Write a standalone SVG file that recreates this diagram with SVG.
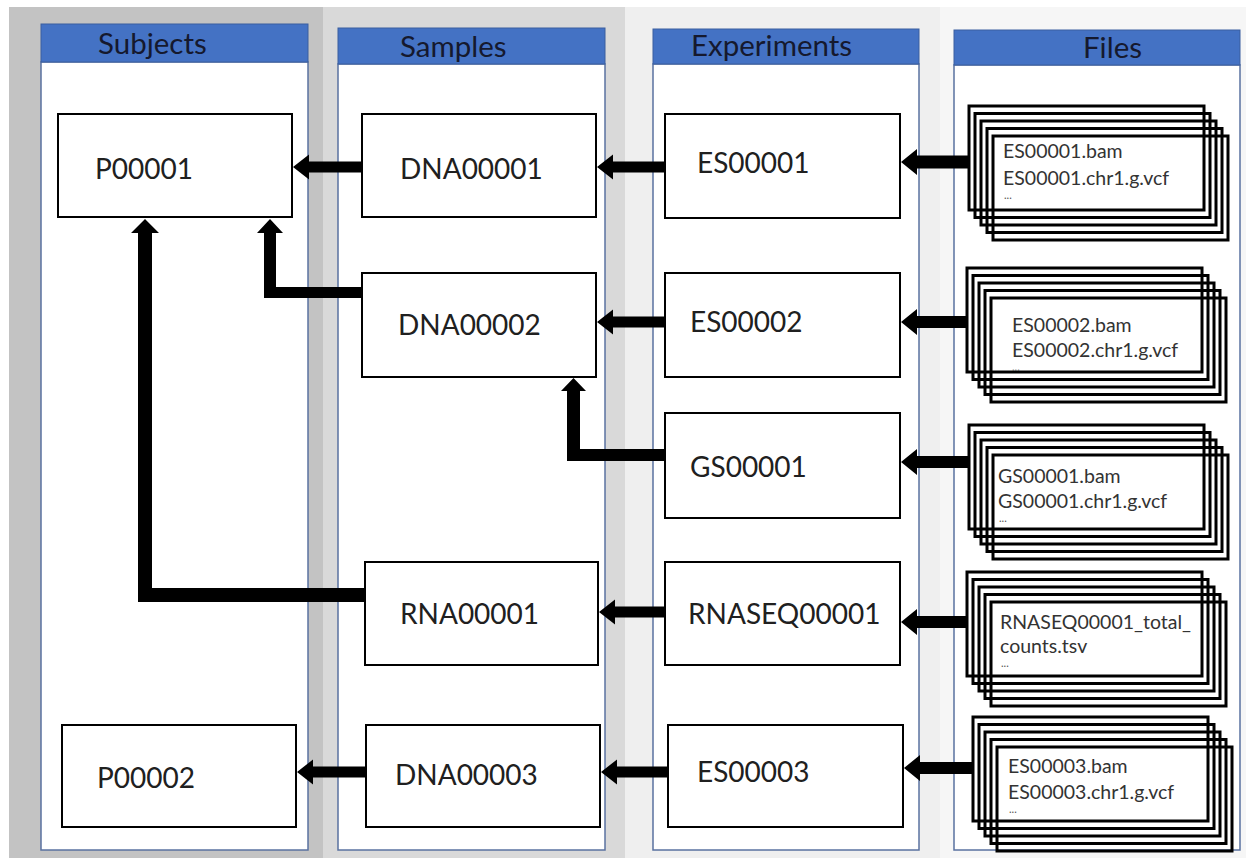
<svg xmlns="http://www.w3.org/2000/svg" width="1246" height="859" viewBox="0 0 1246 859">
<style>
.col{fill:#ffffff;stroke:#5a72a0;stroke-width:1.5}
.hdr{fill:#4472c4;stroke:#3a5f9f;stroke-width:1}
.ht{font-family:Lato,"Liberation Sans",sans-serif;font-size:29.5px;fill:#15192e}
.box{fill:#ffffff;stroke:#000000;stroke-width:2}
.lbl{font-family:Lato,"Liberation Sans",sans-serif;font-size:28px;fill:#202020}
.fr{fill:none;stroke:#000000;stroke-width:3}
.ft{font-family:Lato,"Liberation Sans",sans-serif;font-size:19.5px;fill:#333333}
.dots{font-family:Lato,"Liberation Sans",sans-serif;font-size:11px;fill:#555555}
.arr{fill:#000000}
</style>
<defs>
<g id="stack">
<rect class="fr" x="0" y="0" width="235" height="104"/>
<rect class="fr" x="6" y="7.5" width="235" height="104"/>
<rect class="fr" x="12" y="15" width="235" height="104"/>
<rect class="fr" x="18" y="22.5" width="235" height="104"/>
<rect class="fr" x="24" y="30" width="235" height="104"/>
</g>
</defs>
<!-- background bands -->
<rect x="0" y="0" width="1246" height="859" fill="#ffffff"/>
<rect x="9" y="7" width="314" height="851" fill="#c3c3c3"/>
<rect x="323" y="7" width="302" height="851" fill="#d9d9d9"/>
<rect x="625" y="7" width="315" height="851" fill="#efefef"/>
<rect x="940" y="7" width="306" height="851" fill="#f6f6f6"/>

<!-- columns -->
<g id="col-subjects">
<rect class="col" x="41" y="62" width="267" height="788"/>
<rect class="hdr" x="41" y="24" width="267" height="38"/>
<text class="ht" x="98" y="54">Subjects</text>
</g>
<g id="col-samples">
<rect class="col" x="338" y="64" width="267" height="786"/>
<rect class="hdr" x="338" y="28" width="267" height="36"/>
<text class="ht" x="400" y="57">Samples</text>
</g>
<g id="col-experiments">
<rect class="col" x="653" y="64" width="266" height="786"/>
<rect class="hdr" x="653" y="29" width="266" height="35"/>
<text class="ht" x="691" y="56">Experiments</text>
</g>
<g id="col-files">
<rect class="col" x="954" y="65" width="286" height="785"/>
<rect class="hdr" x="954" y="30" width="286" height="35"/>
<text class="ht" x="1083" y="58">Files</text>
</g>

<!-- nodes -->
<g id="P00001"><rect class="box" x="58" y="114" width="234" height="103"/><text class="lbl" x="95" y="179">P00001</text></g>
<g id="DNA00001"><rect class="box" x="362" y="114" width="234" height="103"/><text class="lbl" x="400" y="179">DNA00001</text></g>
<g id="ES00001"><rect class="box" x="665" y="114" width="235" height="104"/><text class="lbl" x="697" y="173">ES00001</text></g>
<g id="DNA00002"><rect class="box" x="362" y="273" width="234" height="104"/><text class="lbl" x="398" y="335">DNA00002</text></g>
<g id="ES00002"><rect class="box" x="665" y="273" width="235" height="104"/><text class="lbl" x="690" y="332">ES00002</text></g>
<g id="GS00001"><rect class="box" x="665" y="413" width="235" height="105"/><text class="lbl" x="690" y="477">GS00001</text></g>
<g id="RNA00001"><rect class="box" x="365" y="562" width="233" height="103"/><text class="lbl" x="400" y="624">RNA00001</text></g>
<g id="RNASEQ00001"><rect class="box" x="665" y="562" width="235" height="103"/><text class="lbl" x="688" y="624">RNASEQ00001</text></g>
<g id="P00002"><rect class="box" x="62" y="725" width="234" height="102"/><text class="lbl" x="97" y="788">P00002</text></g>
<g id="DNA00003"><rect class="box" x="366" y="725" width="234" height="102"/><text class="lbl" x="395" y="785">DNA00003</text></g>
<g id="ES00003"><rect class="box" x="668" y="725" width="235" height="102"/><text class="lbl" x="697" y="782">ES00003</text></g>

<!-- file stacks -->
<g id="files-ES00001"><use href="#stack" x="969" y="106"/>
<text class="ft" x="1003" y="158">ES00001.bam</text><text class="ft" x="1003" y="185">ES00001.chr1.g.vcf</text><text class="dots" x="1004" y="199">...</text></g>
<g id="files-ES00002"><use href="#stack" x="967" y="268"/>
<text class="ft" x="1012" y="332">ES00002.bam</text><text class="ft" x="1012" y="357">ES00002.chr1.g.vcf</text><text class="dots" x="1012" y="371">...</text></g>
<g id="files-GS00001"><use href="#stack" x="969" y="425"/>
<text class="ft" x="998" y="483">GS00001.bam</text><text class="ft" x="998" y="508">GS00001.chr1.g.vcf</text><text class="dots" x="999" y="522">...</text></g>
<g id="files-RNASEQ00001"><use href="#stack" x="967" y="572"/>
<text class="ft" x="1000" y="629">RNASEQ00001_total_</text><text class="ft" x="1000" y="653">counts.tsv</text><text class="dots" x="1001" y="667">...</text></g>
<g id="files-ES00003"><use href="#stack" x="973" y="717"/>
<text class="ft" x="1008" y="773">ES00003.bam</text><text class="ft" x="1008" y="799">ES00003.chr1.g.vcf</text><text class="dots" x="1009" y="813">...</text></g>

<!-- connectors -->
<g id="connectors" class="arr">
<path d="M362,161.5 H309 V154.5 L293,167 L309,179.5 V172.5 H362 Z"/>
<path d="M665,161.5 H613 V154.5 L597,167 L613,179.5 V172.5 H665 Z"/>
<path d="M969,155.5 H917 V149 L901,162 L917,175 V168.5 H969 Z"/>
<path d="M665,316.5 H613 V309.5 L597,322 L613,334.5 V327.5 H665 Z"/>
<path d="M967,316 H917 V309 L901,322 L917,335 V328 H967 Z"/>
<path d="M969,456 H917 V449 L901,462 L917,475 V468 H969 Z"/>
<path d="M665,606.5 H615 V599.5 L599,612 L615,624.5 V617.5 H665 Z"/>
<path d="M967,616 H917 V609 L901,622 L917,635 V628 H967 Z"/>
<path d="M366,766.5 H313 V759.5 L297,772 L313,784.5 V777.5 H366 Z"/>
<path d="M668,766.5 H617 V759.5 L601,772 L617,784.5 V777.5 H668 Z"/>
<path d="M973,762 H920 V755 L904,768 L920,781 V774 H973 Z"/>
<path d="M362,287 H276 V233 H283 L270,219 L257,233 H264 V298 H362 Z"/>
<path d="M665,449 H580 V391 H586 L573.5,378 L561,391 H567 V461 H665 Z"/>
<path d="M365,588 H152 V233 H159 L145,219 L131,233 H138 V602 H365 Z"/>
</g>
</svg>
